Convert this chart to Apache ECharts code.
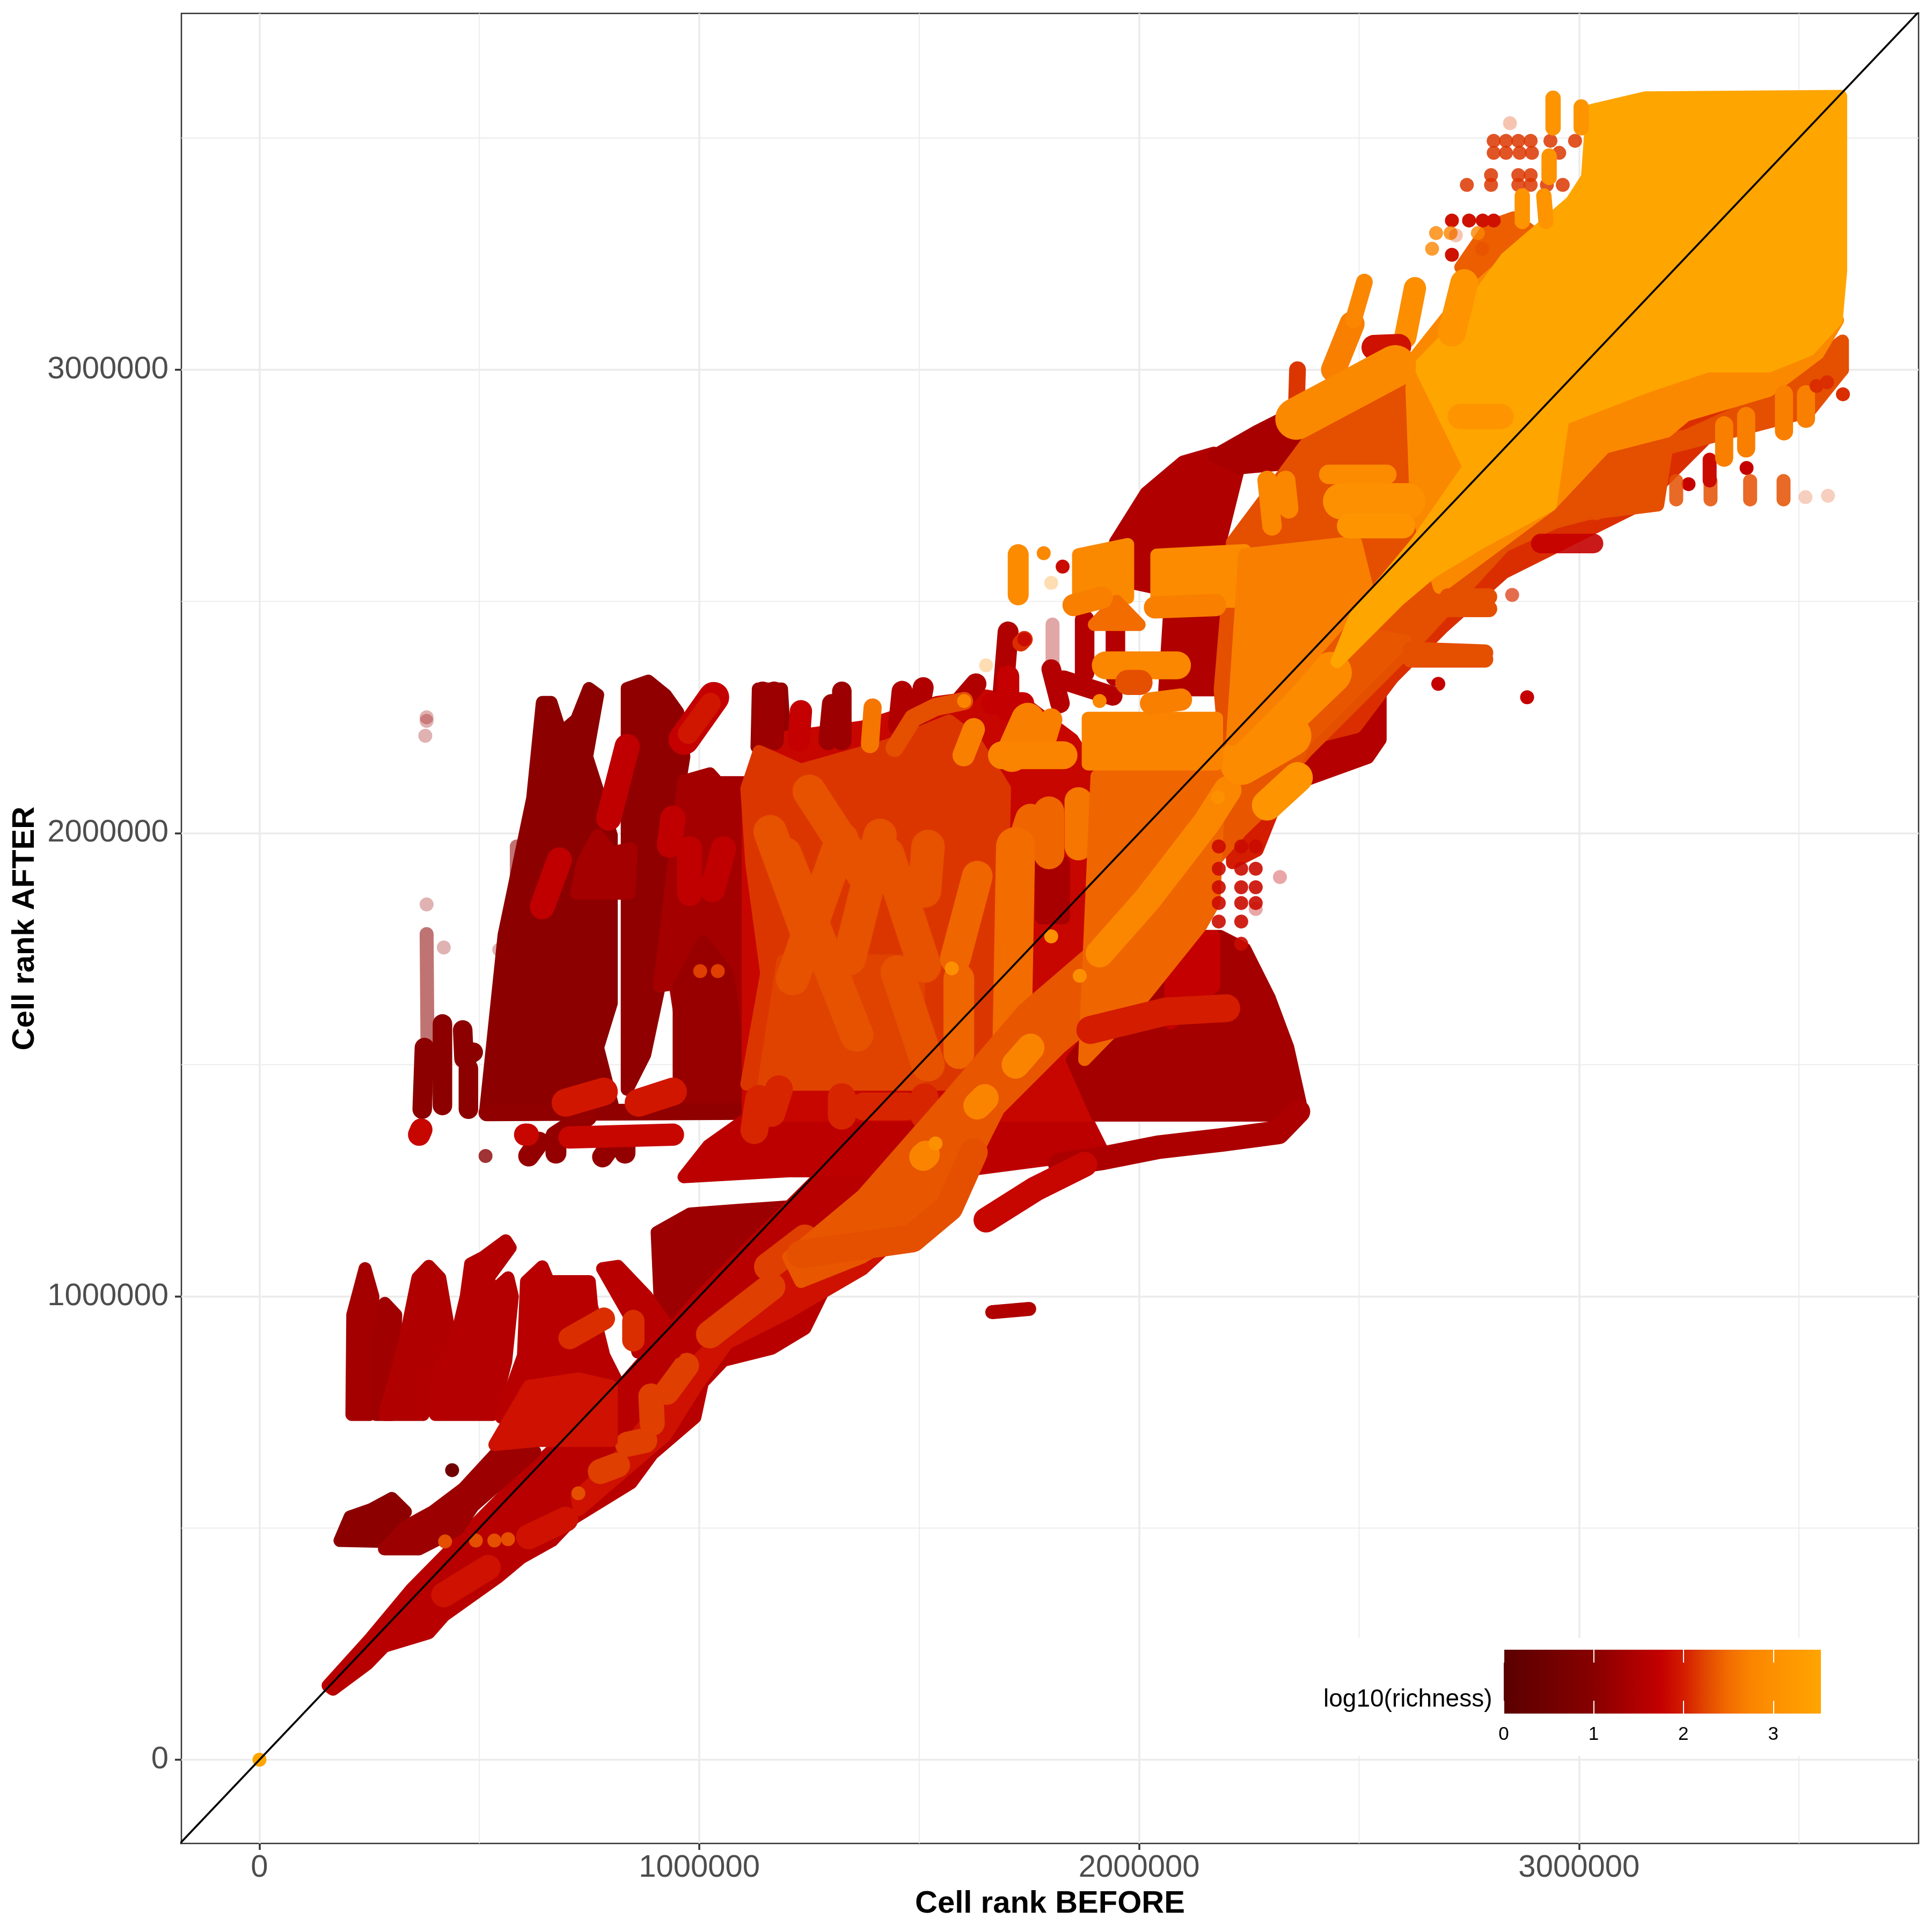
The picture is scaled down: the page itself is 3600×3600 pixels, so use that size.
<!DOCTYPE html>
<html><head><meta charset="utf-8">
<script src="https://cdn.jsdelivr.net/npm/echarts@6/dist/echarts.min.js"></script>
<style>html,body{margin:0;background:#fff}#c{width:3600px;height:3600px}</style></head>
<body><div id="c"></div><script>
// all shape values: thousands of cell ranks [before, after]
const xTicks=[0,1000000,2000000,3000000], yTicks=[0,1000000,2000000,3000000];
const minorTicks=[500000,1500000,2500000,3500000];
const legendTicks=[0,1,2,3];
const richnessStops=[[0,'#5a0000'],[1,'#880000'],[1.75,'#c40000'],[2,'#d41c00'],[2.25,'#e24800'],[2.5,'#f26c00'],[2.75,'#fa8400'],[3,'#fd9000'],[3.53,'#ffa500']];
// lower diagonal
const wedge=[[[904,1138],[979,1178],[1091,1186],[1259,1197],[1091,926],[915,899]]];
const bandLow=[[[156,160],[253,262],[346,368],[587,600],[811,793],[1002,1000],[1203,1192],[1371,1351],[1540,1511],[1240,931],[1165,888],[1055,862],[1007,814],[990,739],[893,660],[845,598],[713,521],[665,473],[595,436],[542,394],[419,311],[385,274],[284,245],[245,207],[167,152]]];
const stripLow=[[[183,473],[279,471],[332,535],[301,564],[254,540],[206,524]]];
const stripNext=[[[284,455],[363,455],[450,497],[486,548],[626,665],[565,689],[464,585],[394,535],[332,503]]];
const bandMid=[[[722,567],[811,646],[979,846],[1091,952],[1203,1059],[1344,1178],[1512,1325],[1568,1232],[1371,1059],[1203,966],[1063,899],[993,806],[923,700],[825,620],[727,540]]];
const bandOrangeA=[[[1156,1064],[1240,1125]],[[1024,918],[1164,1021]]];
const bandOrangeB=[[[926,793],[971,851]],[[890,785],[893,726]],[[837,681],[876,689]],[[775,622],[814,636]]];
const lowStrokes=[[[419,356],[520,415]],[[612,481],[696,519]]];
const lowDots=[[725,575],[422,471],[492,473],[534,473],[565,476]];
const darkDots=[[438,625]];
// left comb, low
const combA=[[[210,745],[212,960],[240,1060],[258,1000],[250,745]]];
const combB=[[[265,745],[265,900],[285,985],[310,960],[300,745]]];
const combC=[[[285,745],[330,900],[360,1040],[385,1065],[410,1040],[430,930],[372,745]]];
const combD=[[[400,745],[405,840],[440,880],[470,1000],[480,1070],[510,1085],[560,1120],[570,1105],[520,1040],[530,1010],[565,1040],[575,1000],[560,860],[530,745]]];
const combE=[[[550,739],[600,872],[607,1032],[643,1064],[657,1032],[750,1032],[755,980],[783,872],[825,793],[839,739],[727,686]]];
const combF=[[[780,1060],[815,1065],[880,1000],[940,920],[945,880],[860,880],[840,960]]];
const combOver=[[[535,680],[613,806],[725,822],[800,806],[800,689],[725,689],[635,689]]];
const combOrange=[[[705,910],[783,952]],[[850,905],[850,947]]];
// upper comb
const upperA=[[[514,1399],[556,1780],[621,2075],[643,2282],[663,2282],[685,2216],[721,2245],[749,2312],[769,2298],[744,2165],[769,2091],[800,1995],[800,1633],[769,1537],[806,1399]]];
const upperB=[[[836,1447],[836,1670],[836,2312],[884,2328],[923,2298],[951,2261],[965,2165],[912,1854],[909,1670],[876,1522]]];
const upperC=[[[909,1670],[965,2112],[1024,2128],[1042,2109],[1111,2109],[1133,1396],[954,1396],[973,1500],[945,1675]]];
const upperD=[[[954,1670],[1008,1766],[1063,1700],[1111,1396],[954,1396]]];
const upperE=[[[1131,2186],[1134,2311],[1187,2311],[1195,2186]]];
const upperBlock=[[[721,1870],[735,1936],[769,1995],[800,1958],[845,1966],[840,1870]]];
const upperReds=[[[643,1841],[682,1942]],[[794,2032],[836,2187]],[[978,1966],[978,1870]],[[1055,1966],[1030,1878]],[[940,2032],[932,1974]]];
const upperBar=[[[965,2202],[1033,2293]]];
const upperBarIn=[[[975,2215],[1025,2280]]];
const thinDark=[[[375,1537],[370,1404]],[[416,1588],[416,1412]],[[462,1575],[465,1513],[486,1527]],[[475,1492],[475,1404]]];
const fadeDark=[[[380,1782],[382,1537]],[[585,1971],[585,1782]]];
const paleDots=[[380,2250],[380,2242],[377,2210],[380,1846],[419,1753],[545,1748]];
const smallOrange=[[1002,1702],[1042,1702]];
// row beneath upper comb
const rowDark=[[[517,1396],[1100,1399]]];
const rowDeep=[[[612,1303],[635,1333]],[[674,1309],[674,1346],[744,1389]],[[780,1301],[814,1346]],[[831,1309],[831,1346]]];
const rowRed=[[[363,1349],[368,1360]],[[604,1349],[610,1349]],[[705,1343],[940,1349]]];
const rowOrange=[[[696,1418],[783,1442]],[[862,1418],[940,1442]]];
const rowSingle=[[514,1303]];
const lowerRow=[[[965,1258],[1021,1325],[1119,1391],[1876,1391],[1918,1311],[1596,1271],[1203,1271]]];
// central red block and fringe
const bigRed=[[[1111,1391],[1111,2096],[1161,2202],[1371,2229],[1540,2282],[1652,2296],[1736,2282],[1848,2202],[1918,2096],[1918,1391]]];
const fringeDeep=[[[1144,2306],[1144,2200]],[[1170,2306],[1170,2200]],[[1301,2279],[1293,2200]],[[1324,2306],[1324,2200]]];
const fringeMidA=[[[1461,2306],[1453,2232]],[[1509,2314],[1495,2240]],[[1629,2322],[1598,2288]],[[1702,2434],[1691,2306]]];
const fringeMidB=[[[1231,2263],[1226,2200]],[[1702,2338],[1702,2264]],[[1666,2280],[1736,2280]]];
const fringeTall=[[[1800,2354],[1820,2280]],[[1876,2460],[1876,2346]],[[1828,2330],[1940,2296]],[[1946,2442],[1946,2338]]];
const fringeFade=[[[1803,2450],[1803,2362]]];
const triangle=[[[2184,1777],[2240,1750],[2296,1644],[2338,1537],[2366,1418],[2324,1391],[1904,1391],[1848,1511],[2072,1777]]];
const triangleDots=[[[2072,1764],[2170,1777],[2170,1670],[2072,1590]]];
const strap=[[[2362,1399],[2316,1354],[2190,1338],[2044,1322],[1916,1298],[1820,1285]]];
const strapLow=[[[1652,1165],[1764,1232],[1876,1285]]];
const isle=[[[1666,966],[1750,973]]];
const dotGridPts=[[2181,1971],[2232,1971],[2265,1971],[2181,1923],[2232,1923],[2265,1923],[2181,1883],[2232,1883],[2265,1883],[2181,1849],[2232,1849],[2181,1809],[2232,1809],[2265,1849],[2232,1761]];
const dotPale=[[2265,1836],[2320,1905]];
// block O
const blockO=[[[1108,1458],[1153,1697],[1119,1936],[1108,2096],[1136,2176],[1231,2136],[1428,2189],[1568,2242],[1624,2202],[1694,2096],[1680,1458]]];
const blockLow=[[[1147,1458],[1190,1724],[1498,1724],[1498,1458]]];
const darkStreak=[[[1778,1936],[1828,1936],[1828,1817],[1778,1817]]];
const streaksA=[[[1161,2003],[1248,1777]],[[1212,1686],[1324,1987]],[[1195,1955],[1358,1564]],[[1341,1729],[1411,1995]],[[1428,1955],[1512,1713]],[[1520,1971],[1512,1875]],[[1250,2090],[1380,1900]],[[1450,1700],[1520,1500]]];
const streaksB=[[[1590,1686],[1590,1524]],[[1582,1729],[1632,1907]],[[1753,2030],[1711,1907]],[[1795,2046],[1795,1955]]];
const streakWide=[[[1711,1548],[1719,1971]]];
const streakRight=[[[1862,2069],[1862,1971]]];
const topOrange=[[[1688,2168],[1828,2168]]];
const forkA=[[[1747,2245],[1711,2168]]];
const forkB=[[[1800,2245],[1778,2176]],[[1624,2224],[1601,2168]]];
const arc=[[[1444,2184],[1486,2248],[1537,2272],[1602,2285]]];
const arcEnd=[[1602,2285]];
const thinOrange=[[[1394,2271],[1388,2192]]];
const rowSlab=[[[1324,1430],[1324,1390]],[[1374,1410],[1470,1410]],[[1512,1430],[1512,1390]],[[1136,1426],[1125,1359]],[[1181,1447],[1164,1396]]];
// upper centre
const darkC=[[[1946,2628],[2016,2734],[2100,2801],[2170,2820],[2226,2788],[2184,2628],[2100,2522],[2212,2468],[2212,2309],[2058,2309],[2072,2522],[1946,2548]]];
const darkTop=[[[2170,2814],[2268,2867],[2324,2894],[2380,2854],[2380,2801],[2226,2788]]];
const midC=[[[2184,2309],[2212,2628],[2296,2734],[2380,2841],[2520,2921],[2716,3000],[2940,2734],[2632,2415],[2492,2282],[2380,2176],[2212,1990]]];
const darkRight=[[[2380,2202],[2380,2149],[2324,2096],[2520,2163],[2548,2202],[2548,2296],[2464,2309]]];
const fringeR=[[[2380,2202],[2520,2322],[2632,2389],[2786,2535],[2913,2681],[3053,2734],[3333,2947],[3585,3027],[3599,3000],[3333,2894],[3137,2708],[3025,2655],[2829,2562],[2688,2442],[2576,2335],[2492,2229]]];
const patchC=[[[2324,2096],[2268,1963],[2212,1936],[2212,2096]]];
const streamA=[[[1203,1085],[1371,1218],[1568,1431],[1736,1617],[1932,1777],[2100,2069],[2212,2202],[2436,2442],[2604,2415],[2380,2202],[2320,2086],[2232,2005],[2170,1939],[2154,1824],[2062,1793],[1988,1670],[1820,1537],[1680,1404],[1624,1298],[1512,1165],[1371,1085],[1231,1032]]];
const streamBranch=[[[1231,1091],[1484,1125],[1568,1192],[1624,1311]]];
const rightOrange=[[[1876,1511],[1904,2123],[2184,2149],[2170,1850],[2140,1800],[1988,1620]]];
const tail=[[[1889,1575],[2061,1615],[2198,1622]]];
const streamLight=[[[1910,1740],[2019,1857],[2153,2022],[2201,2093]]];
const streamSpots=[[[1719,1500],[1753,1537]],[[1632,1412],[1649,1428]],[[1509,1301],[1515,1306]]];
const streamBroad=[[[2232,2160],[2436,2346]],[[2232,2149],[2344,2210]]];
const streamTop=[[[2291,2060],[2360,2120]]];
const brightDots=[[1574,1708],[1865,1692],[1537,1330],[2179,2077],[1800,1777]];
const blockOr=[[[1884,2248],[2176,2248],[2176,2149],[1884,2149]]];
const blockTopA=[[[1862,2495],[1862,2601],[1974,2623],[1974,2508]]];
const blockTopB=[[[2040,2500],[2040,2600],[2240,2610],[2240,2500]]];
const dome=[[[1898,2450],[1949,2500],[2000,2450]]];
const slabLeft=[[[1924,2362],[2086,2362]]];
const slabs=[[[1851,2492],[1915,2508]],[[2036,2487],[2173,2492]],[[2027,2280],[2095,2288]]];
const smallBlob=[[[1974,2325],[2002,2325]]];
const spike=[[[1725,2601],[1725,2514]]];
const spikeDots=[[1783,2604],[1910,2285]];
const dotRed=[[1826,2575],[1739,2418]];
const paleOrange=[[1800,2540],[1652,2362]];
const patchDeep=[[[2061,2346],[2078,2460],[2173,2476],[2173,2346]]];
const shortDark=[[[1739,2418],[1731,2410]]];
// upper right
const midOrange=[[[2240,2601],[2492,2628],[2520,2522],[2324,2309],[2212,2202]]];
const massFringe=[[[2963,2796],[3151,2841],[3243,2857],[3411,2929],[3599,3062],[3599,3000],[3523,2910],[3383,2875],[3199,2830],[3179,2708],[3019,2689],[2947,2671],[2823,2617]]];
const upperFringe=[[[2731,3221],[2795,3309],[2851,3328],[2899,3293],[2778,3187]]];
const massUnder=[[[3588,3107],[3543,3035],[3431,2955],[3243,2902],[3199,2867],[3059,2833],[2935,2708],[2683,2530],[2630,2700],[2620,2960],[2627,3027],[2716,3133],[2829,3227],[2941,3293],[3300,3400]]];
const massTop=[[[3595,3590],[3595,3213],[3585,3107],[3523,3043],[3431,3008],[3291,3008],[3151,2963],[2963,2894],[2935,2708],[2778,2628],[2666,2564],[2590,2503],[2450,2370],[2492,2468],[2632,2628],[2750,2790],[2638,3008],[2711,3080],[2834,3240],[2899,3293],[2983,3362],[3019,3415],[3030,3560],[3151,3587]]];
const redBar=[[[2913,2625],[3033,2625]]];
const rowA=[[[2618,2395],[2786,2389]],[[2618,2375],[2786,2375]],[[2702,2510],[2795,2510]],[[2702,2484],[2795,2484]]];
const singleA=[[2848,2514]];
const singleB=[[2680,2322],[2882,2293],[3249,2753],[3381,2788]];
const pale=[[3515,2725],[3566,2728]];
const bottomColumns=[[[3221,2720],[3221,2760]],[[3299,2720],[3299,2760]],[[3389,2720],[3389,2760]],[[3465,2720],[3465,2760]],[[3095,2750],[3095,2700]],[[3040,2740],[3040,2690]]];
const colRed=[[[3297,2806],[3297,2761]]];
const colOrange=[[[3466,2947],[3466,2867]],[[3516,2947],[3516,2894]],[[3380,2900],[3380,2830]],[[3330,2880],[3330,2810]]];
const edgeDots=[[3564,2973],[3600,2947],[3540,2965]];
const upperRow114=[[2806,3494],[2834,3494],[2862,3494],[2890,3494],[2935,3494],[2991,3494],[2806,3468],[2834,3468],[2865,3468],[2893,3468],[2955,3468],[2745,3399],[2800,3399],[2862,3399],[2890,3399],[2927,3399],[2963,3399],[2800,3420],[2862,3420],[2890,3420]];
const upperRow179=[[2711,3322],[2750,3322],[2781,3322],[2806,3322],[2711,3248]];
const upperRow189=[[2675,3295],[2708,3295],[2770,3295],[2666,3261]];
const paleTop=[[2843,3532],[2720,3290],[2780,3261]];
const colsTop=[[[2941,3586],[2941,3522]],[[3005,3567],[3005,3522]],[[2932,3461],[2932,3415]],[[2871,3375],[2871,3320]],[[2920,3375],[2925,3320]]];
const spikeA=[[[2512,3189],[2487,3107]]];
const spikeB=[[[2484,3099],[2442,3000]]];
const spikeC=[[[2627,3176],[2605,3070]]];
const spikeD=[[[2739,3187],[2711,3080]]];
const redPatch=[[[2534,3048],[2590,3050]]];
const redCol=[[[2360,3000],[2357,2902]]];
const diag1=[[[2357,2894],[2582,3008]]];
const strokes29=[[[2431,2774],[2563,2774]]];
const strokes30=[[[2459,2716],[2610,2716]]];
const strokes31=[[[2478,2663],[2599,2663]],[[2730,2899],[2823,2899]]];
const columnsMid=[[[2291,2761],[2302,2663]],[[2333,2761],[2340,2700]]];
const originDot=[[0,0]];

// which shape is drawn how: kind, shapes, log10(richness), stroke width in dots, opacity; drawn in this order
const layers=[
 ['p',wedge,1.25],['p',bandLow,1.6],['p',stripLow,1.05],['p',stripNext,1.25],['p',bandMid,1.9],
 ['s',lowStrokes,1.9,1.8],['s',bandOrangeA,2.2,2],['s',bandOrangeB,2.2,1.8],['d',lowDots,2.3],['d',darkDots,.5],
 ['p',combA,1.35],['p',combB,1.3],['p',combC,1.5],['p',combD,1.55],['p',combE,1.6],['p',combF,1.6],['p',combOver,1.9],['s',combOrange,2.1,1.6],
 ['p',upperA,1.05],['p',upperB,1.1],['p',upperC,1.35],['p',upperD,1.2],['p',upperE,1.15],['p',upperBlock,1.35],
 ['s',upperReds,1.7,1.8],['s',upperBar,1.75,2.2],['s',upperBarIn,1.95,1.5],['s',thinDark,1.05,1.4],['s',fadeDark,1.05,1,.55],['d',paleDots,1.2,.3],['d',smallOrange,2.2],
 ['s',rowDark,1.1,1.2],['p',lowerRow,1.65],['s',rowDeep,1.15,1.5],['s',rowRed,1.8,1.6],['s',rowOrange,1.95,2],['d',rowSingle,1,.8],
 ['p',bigRed,1.8],['s',fringeDeep,1.25,1.4],['s',fringeMidA,1.5,1.5],['s',fringeMidB,1.75,1.6],['s',fringeFade,1.4,1,.35],['s',fringeTall,1.55,1.4],
 ['p',triangle,1.35],['p',triangleDots,1.75],['s',strap,1.45,1.7],['s',strapLow,1.8,1.8],['s',isle,1.5,1],['d',dotPale,1.7,.35],
 ['p',blockO,2.15],['p',blockLow,2.22],['p',darkStreak,1.4],['s',streaksA,2.32,2.4],['s',streaksB,2.45,2.2],['s',streakWide,2.5,2.8],['s',streakRight,2.6,2],['s',thinOrange,2.6,1.3],['s',rowSlab,2.05,2],
 ['s',forkA,2.7,2.4],['s',forkB,2.7,1.6],['s',topOrange,2.75,2],['s',arc,2.3,1.3],['d',arcEnd,2.75],
 ['p',patchDeep,1.4],['s',shortDark,2.1,1.2],['p',darkC,1.5],['p',darkTop,1.4],['p',darkRight,1.55],['p',fringeR,2.1],['p',patchC,2],['p',midC,2.3],
 ['p',streamA,2.35],['s',streamBranch,2.3,2],['p',rightOrange,2.45],['d',dotGridPts,1.85,.9],['s',tail,2,2],['s',streamLight,2.8,2],['s',streamSpots,2.75,2],['s',streamBroad,2.9,3],['s',streamTop,3.1,2.2],['d',brightDots,3],
 ['p',blockOr,2.75],['p',blockTopA,2.85],['p',blockTopB,2.9],['p',dome,2.5],['s',slabLeft,2.8,2],['s',slabs,2.7,1.6],['s',smallBlob,2.3,1.8],['s',spike,2.9,1.5],['d',spikeDots,2.85],['d',dotRed,1.85],['d',paleOrange,3,.3],
 ['p',midOrange,2.7],['p',massFringe,2.3],['p',upperFringe,2.4],['p',massUnder,2.85],['p',massTop,3.53],
 ['s',redBar,1.75,1.4,.9],['s',rowA,2.3,1.2],['d',singleA,2.1,.7],['d',singleB,1.75],['d',pale,2.2,.25],['s',bottomColumns,2.3,1,.85],['s',colRed,1.85,1],['s',colOrange,2.7,1.3],['d',edgeDots,2.1],
 ['d',upperRow114,2.15,.85],['d',upperRow179,1.9],['d',upperRow189,2.8,.8],['d',paleTop,2.2,.3],['s',colsTop,3.1,1.1],
 ['s',spikeB,2.7,1.8],['s',spikeA,2.8,1.2],['s',spikeC,2.95,1.6],['s',spikeD,3.1,2],['s',redPatch,1.9,1.8],['s',redCol,2.15,1.2],['s',diag1,2.85,3],
 ['s',strokes29,2.9,1.4],['s',strokes30,3,2.6],['s',strokes31,3.1,1.8],['s',columnsMid,2.8,1.4],['d',originDot,3.53]
];
const DOT=26;
function hex(c){return [1,3,5].map(i=>parseInt(c.substr(i,2),16));}
function colourOf(r){
 for(let i=1;i<richnessStops.length;i++){const a=richnessStops[i-1],b=richnessStops[i];
  if(r<=b[0]){const t=(r-a[0])/(b[0]-a[0]),A=hex(a[1]),B=hex(b[1]);
   return 'rgb('+A.map((v,k)=>Math.round(v+(B[k]-v)*t)).join(',')+')';}}
 return richnessStops[richnessStops.length-1][1];
}
const toRank=p=>[p[0]*1000,p[1]*1000];
const XMIN=-177500,XMAX=3772000,YMIN=-180700,YMAX=3769000;
const series=[];
let order=10;
const gridLine=(data)=>({type:'line',z:1,data,symbol:'none',silent:true,animation:false,lineStyle:{color:'#ebebeb',width:1.8}});
minorTicks.forEach(v=>{series.push(gridLine([[v,YMIN],[v,YMAX]]));series.push(gridLine([[XMIN,v],[XMAX,v]]));});
// white backdrop of the legend
series.push({type:'custom',z:2,coordinateSystem:'cartesian2d',data:[[2400000,263000],[3571000,8000]],silent:true,animation:false,
 renderItem(p,api){if(p.dataIndex)return null;const a=api.coord([2400000,263000]),b=api.coord([3571000,8000]);
  return {type:'rect',shape:{x:a[0],y:a[1],width:b[0]-a[0],height:b[1]-a[1]},style:{fill:'#fff'}};}});
layers.forEach(l=>{
 const [kind,shapes,r,w,op]=l, color=colourOf(r);
 if(kind==='d'){series.push({type:'scatter',z:order++,data:shapes.map(toRank),symbolSize:DOT,silent:true,animation:false,itemStyle:{color,opacity:w===undefined?1:w}});return;}
 shapes.forEach(sh=>{
  const pts=sh.map(toRank), z=order++;
  if(kind==='s') series.push({type:'line',z,data:pts,symbol:'none',silent:true,animation:false,lineStyle:{color,width:w*DOT,opacity:op===undefined?1:op,cap:'round',join:'round'}});
  else series.push({type:'custom',z,coordinateSystem:'cartesian2d',data:pts,encode:{x:0,y:1},silent:true,animation:false,clip:true,
   renderItem(p,api){if(p.dataIndex)return null;return {type:'polygon',shape:{points:pts.map(q=>api.coord(q))},style:{fill:color,stroke:color,lineWidth:24,lineJoin:'round'}};}});
 });
});
series.push({type:'line',z:order+1,data:[[-200000,-200000],[3800000,3800000]],symbol:'none',silent:true,animation:false,lineStyle:{color:'#000',width:3.6}});
// colour bar
series.push({type:'custom',z:order+2,xAxisIndex:1,yAxisIndex:1,data:[[0,0],[3.53,1]],silent:true,animation:false,
 renderItem(p,api){if(p.dataIndex)return null;const a=api.coord([0,1]),b=api.coord([3.53,0]);
  return {type:'rect',shape:{x:a[0],y:a[1],width:b[0]-a[0],height:b[1]-a[1]},
   style:{fill:new echarts.graphic.LinearGradient(0,0,1,0,richnessStops.map(s=>({offset:s[0]/3.53,color:s[1]})))}};}});
const topZ=order+5;
const tickLab={fontFamily:'Liberation Sans',fontSize:58,color:'#4d4d4d'};
const nameTxt={fontFamily:'Liberation Sans',fontSize:58,fontWeight:'bold',color:'#000'};
const split={show:true,lineStyle:{color:'#ebebeb',width:3.5}};
const option={animation:false,backgroundColor:'#fff',
 grid:[{left:338,top:25,width:3237,height:3410,outerBoundsMode:'none',show:true,borderColor:'#333',borderWidth:2.5,backgroundColor:'#fff'},
       {left:2802,top:3074,width:591,height:119,outerBoundsMode:'none'}],
 xAxis:[
  {type:'value',min:XMIN,max:XMAX,name:'Cell rank BEFORE',nameLocation:'middle',nameGap:84,nameTextStyle:nameTxt,splitLine:split,
   axisLine:{show:false,onZero:false},axisTick:{length:12,lineStyle:{color:'#333',width:3.5},customValues:xTicks},axisLabel:{...tickLab,margin:17,customValues:xTicks,formatter:v=>String(v)}},
  {type:'value',gridIndex:1,min:0,max:3.53,z:topZ,splitLine:{show:false},axisLine:{show:false,onZero:false},
   axisTick:{inside:true,length:24,lineStyle:{color:'#fff',width:2},customValues:legendTicks},
   axisLabel:{customValues:legendTicks,fontFamily:'Liberation Sans',fontSize:35,color:'#000',margin:22}},
  {type:'value',gridIndex:1,position:'top',min:0,max:3.53,z:topZ,splitLine:{show:false},axisLine:{show:false,onZero:false},
   axisTick:{inside:true,length:24,lineStyle:{color:'#fff',width:2},customValues:legendTicks},axisLabel:{show:false}}
 ],
 yAxis:[
  {type:'value',min:YMIN,max:YMAX,name:'Cell rank AFTER',nameLocation:'middle',nameGap:262,nameTextStyle:nameTxt,splitLine:split,
   axisLine:{show:false,onZero:false},axisTick:{length:12,lineStyle:{color:'#333',width:3.5},customValues:yTicks},axisLabel:{...tickLab,margin:24,customValues:yTicks,formatter:v=>String(v),padding:[6,0,0,0]}},
  {type:'value',gridIndex:1,min:0,max:1,show:false}
 ],
 graphic:[{type:'text',z:topZ,left:2466,top:3144,style:{text:'log10(richness)',font:'46px "Liberation Sans"',fill:'#000'}}],
 series};
echarts.init(document.getElementById('c'),null,{renderer:'canvas'}).setOption(option);
</script></body></html>
